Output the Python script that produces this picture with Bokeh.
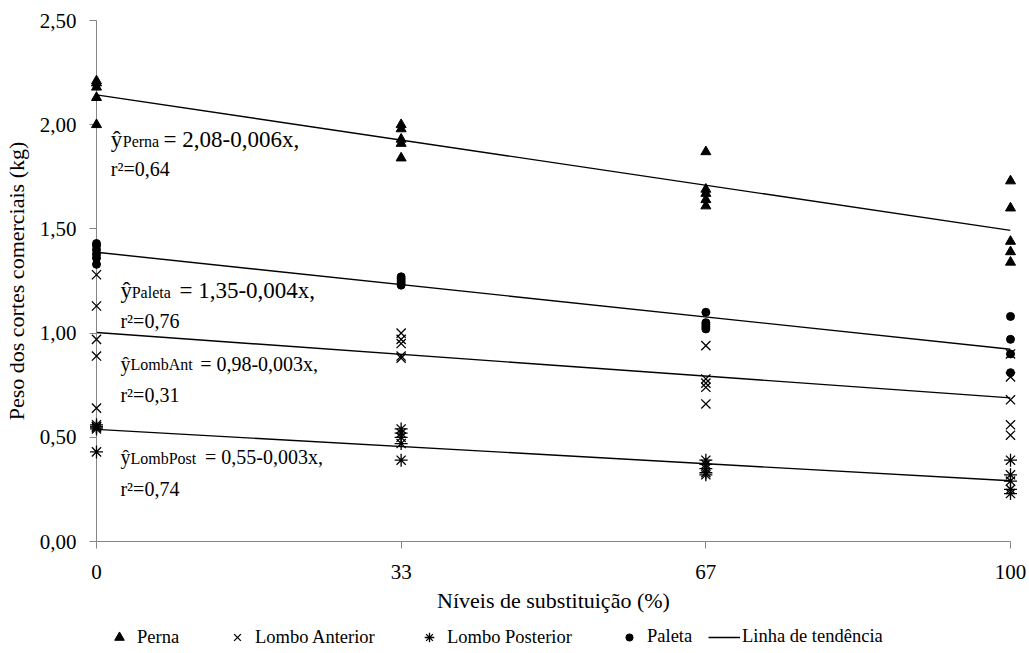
import numpy as np
from bokeh.plotting import figure
from bokeh.layouts import column
from bokeh.models import Range1d, FixedTicker, Legend, LegendItem, Label
from bokeh.embed import file_html
from bokeh.resources import INLINE

# Substitution levels (%) and their tick labels
levels = [0, 33.33, 66.67, 100]
level_labels = ["0", "33", "67", "100"]

# Weight axis ticks (kg)
weight_ticks = [0, 0.5, 1, 1.5, 2, 2.5]
weight_labels = ["0,00", "0,50", "1,00", "1,50", "2,00", "2,50"]

# Commercial cut weights (kg), one list of replicates per level
perna = [
    [2.21, 2.20, 2.18, 2.13, 2.00],
    [2.00, 1.98, 1.93, 1.91, 1.84],
    [1.87, 1.69, 1.67, 1.64, 1.61],
    [1.73, 1.60, 1.44, 1.39, 1.34],
]
lombo_anterior = [
    [1.28, 1.13, 0.97, 0.89, 0.64],
    [1.00, 0.97, 0.95, 0.89, 0.88],
    [0.94, 0.78, 0.76, 0.74, 0.66],
    [0.90, 0.79, 0.68, 0.56, 0.51],
]
lombo_posterior = [
    [0.56, 0.55, 0.55, 0.54, 0.43],
    [0.54, 0.52, 0.50, 0.47, 0.39],
    [0.39, 0.37, 0.35, 0.33, 0.32],
    [0.39, 0.32, 0.29, 0.25, 0.23],
]
paleta = [
    [1.43, 1.42, 1.40, 1.38, 1.36, 1.33],
    [1.27, 1.26, 1.25, 1.24, 1.23],
    [1.10, 1.05, 1.04, 1.03, 1.02],
    [1.08, 0.97, 0.90, 0.81],
]

# Regression equations printed beside each trend line
equations = [
    ("Perna", "= 2,08-0,006x,", "r\u00b2=0,64"),
    ("Paleta", "= 1,35-0,004x,", "r\u00b2=0,76"),
    ("LombAnt", "= 0,98-0,003x,", " r\u00b2=0,31"),
    ("LombPost", "= 0,55-0,003x,", "r\u00b2=0,74"),
]

FONT = "Liberation Serif"
AXIS_GREY = "#868686"
PX_PER_KG = 208.4  # vertical frame scale, used to nudge subscripts

MARKERS = {
    "Perna": dict(marker="triangle", size=10, fill_color="black", line_color="black"),
    "Lombo Anterior": dict(marker="x", size=13, line_color="black", line_width=1.3),
    "Lombo Posterior": dict(marker="asterisk", size=13, line_color="black", line_width=1.3),
    "Paleta": dict(marker="circle", size=8, fill_color="black", line_color="black"),
}
TREND_STYLE = dict(line_color="black", line_width=1.4)


def flatten(groups):
    xs, ys = [], []
    for lv, grp in zip(levels, groups):
        for v in grp:
            xs.append(lv)
            ys.append(v)
    return xs, ys


p = figure(
    width=1029, height=620,
    output_backend="svg", toolbar_location=None,
    x_range=Range1d(0, 100), y_range=Range1d(0, 2.5),
    min_border_left=93, min_border_right=19, min_border_top=20, min_border_bottom=79,
    background_fill_color="white", border_fill_color="white",
)
p.outline_line_color = None
p.xgrid.visible = False
p.ygrid.visible = False

# Trend lines (least squares over every replicate)
for groups in (perna, paleta, lombo_anterior, lombo_posterior):
    xs, ys = flatten(groups)
    slope, intercept = np.polyfit(xs, ys, 1)
    ends = [levels[0], levels[-1]]
    p.line(ends, [intercept + slope * e for e in ends], **TREND_STYLE)

series = [
    ("Perna", perna),
    ("Lombo Anterior", lombo_anterior),
    ("Lombo Posterior", lombo_posterior),
    ("Paleta", paleta),
]
for name, groups in series:
    xs, ys = flatten(groups)
    r = p.scatter(xs, ys, **MARKERS[name])
    r.level = "overlay"

# Axes
for ax in (p.xaxis[0], p.yaxis[0]):
    ax.axis_line_color = AXIS_GREY
    ax.major_tick_line_color = AXIS_GREY
    ax.major_tick_out = 7
    ax.major_tick_in = 0
    ax.minor_tick_line_color = None
    ax.major_label_text_font = FONT
    ax.major_label_text_font_size = "21px"
    ax.major_label_text_color = "black"
    ax.axis_label_text_font = FONT
    ax.axis_label_text_font_size = "22px"
    ax.axis_label_text_font_style = "normal"
    ax.axis_label_text_color = "black"

p.xaxis.ticker = FixedTicker(ticks=levels)
p.xaxis.major_label_overrides = dict(zip(levels, level_labels))
p.xaxis.axis_label = "Níveis de substituição (%)"
p.xaxis.major_label_standoff = 16
p.xaxis.axis_label_standoff = 6

p.yaxis.ticker = FixedTicker(ticks=weight_ticks)
p.yaxis.major_label_overrides = dict(zip(weight_ticks, weight_labels))
p.yaxis.axis_label = "Peso dos cortes comerciais (kg)"
p.yaxis.major_label_standoff = 13
p.yaxis.axis_label_standoff = 8

# Equation labels: x of "ŷ", centre y of the line, x of subscript,
# x of "= ..." part, centre y of r² line, x of r², main font size (px)
eq_layout = [
    (1.56, 1.930, 2.87, 7.34, 1.787, 1.56, 23),
    (2.62, 1.204, 3.85, 9.08, 1.056, 2.62, 23),
    (2.62, 0.854, 3.71, 11.34, 0.701, 2.62, 20),
    (2.62, 0.405, 3.71, 11.88, 0.254, 2.62, 20),
]
SUB_SIZE = 16
for (sub, rest, r2), (x0, yc, xs_, xr, yr2, xr2, fs) in zip(equations, eq_layout):
    common = dict(text_font=FONT, text_color="black", text_baseline="middle", text_align="left")
    # keep the subscript on the same baseline as the main text
    drop = 0.3375 * (fs - SUB_SIZE) / PX_PER_KG
    p.add_layout(Label(x=x0, y=yc, text="\u0177", text_font_size=f"{fs}px", **common))
    p.add_layout(Label(x=xs_, y=yc - drop, text=sub, text_font_size=f"{SUB_SIZE}px", **common))
    p.add_layout(Label(x=xr, y=yc, text=rest, text_font_size=f"{fs}px", **common))
    p.add_layout(Label(x=xr2, y=yr2, text=r2, text_font_size="20px", **common))

# Legend strip underneath the chart
leg = figure(
    width=1029, height=33,
    output_backend="svg", toolbar_location=None,
    x_range=Range1d(0, 1), y_range=Range1d(0, 1),
    x_axis_location=None, y_axis_location=None,
    min_border=0, min_border_left=0, min_border_right=0, min_border_top=0, min_border_bottom=0,
    background_fill_color="white", border_fill_color="white",
)
leg.outline_line_color = None
leg.xgrid.visible = False
leg.ygrid.visible = False

# key glyphs sit outside the visible range; only their legend swatches show
key_renderers = []
for name, _ in series:
    key_renderers.append((name, leg.scatter([-5], [-5], **MARKERS[name])))
key_renderers.append(("Linha de tendência", leg.line([-5, -4], [-5, -5], **TREND_STYLE)))

# each key entry: horizontal offset within the strip and swatch height
key_layout = [(7, 24), (125, 24), (317, 24), (517, 18), (612, 20)]
for (name, r), (dx, gh) in zip(key_renderers, key_layout):
    box_h = max(gh, 20) + 4
    leg.add_layout(Legend(
        items=[LegendItem(label=name, renderers=[r])],
        orientation="horizontal",
        location=(dx, 18 - box_h // 2),
        glyph_width=32, glyph_height=gh, label_height=20,
        label_standoff=2,
        padding=2, margin=0,
        border_line_color=None, background_fill_alpha=0,
        label_text_font=FONT, label_text_font_size="18.5px", label_text_color="black",
    ), "center")

layout = column(p, leg, spacing=0)
open("out.html", "w").write(file_html(layout, INLINE))
